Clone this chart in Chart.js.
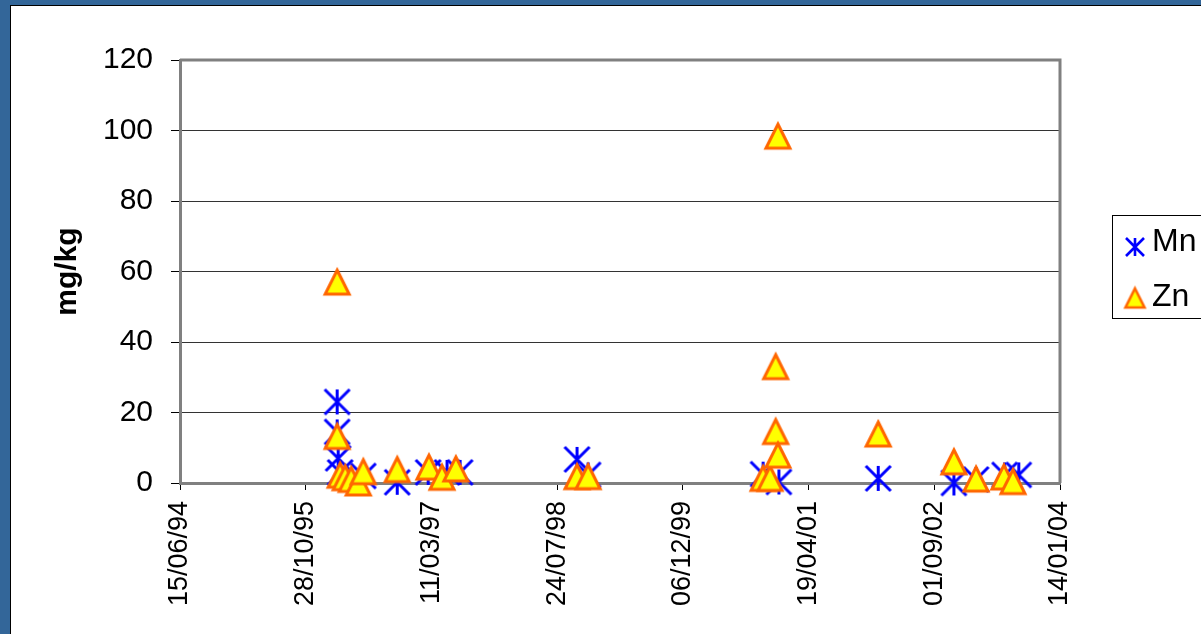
<!DOCTYPE html>
<html>
<head>
<meta charset="utf-8">
<script src="https://cdn.jsdelivr.net/npm/chart.js@4/dist/chart.umd.min.js"></script>
<style>
  html, body { margin: 0; padding: 0; background: #336699; overflow: hidden; }
  canvas { display: block; }
</style>
</head>
<body>
<canvas id="chart" width="1201" height="634"></canvas>
<script>
// Sampling dates (dd/mm/yy) and concentrations in mg/kg
const tickLabels = ['15/06/94', '28/10/95', '11/03/97', '24/07/98', '06/12/99', '19/04/01', '01/09/02', '14/01/04'];

const mnDates = ['01/03/96', '01/03/96', '05/03/96', '13/03/96', '13/06/96', '26/10/96', '26/02/97', '12/05/97', '03/07/97',
                 '11/10/98', '24/11/98', '20/10/00', '22/12/00', '21/01/02', '18/11/02', '14/02/03', '08/06/03', '03/08/03'];
const mnValues = [23, 14.5, 7, 3, 2, 0.2, 3, 3, 3,
                  6.7, 2.3, 2.5, 0.3, 1.3, 0, 1, 2.3, 2.3];

const znDates = ['01/03/96', '01/03/96', '13/03/96', '02/04/96', '26/04/96', '24/05/96', '13/06/96', '26/10/96', '01/03/97', '22/04/97', '16/06/97',
                 '11/10/98', '24/11/98', '20/10/00', '17/11/00', '18/12/00', '09/12/00', '09/12/00', '18/12/00',
                 '21/01/02', '18/11/02', '14/02/03', '05/06/03', '11/07/03'];
const znValues = [57, 13.2, 2.2, 1.5, 1.0, 0, 3.2, 3.8, 4.5, 1.6, 4,
                  1.8, 1.8, 1.3, 1.3, 98.4, 33, 14.6, 7.9,
                  13.9, 6, 1.1, 1.7, 0.4];

const yMin = 0, yMax = 120, yStep = 20;

// dd/mm/yy -> days since 1970-01-01
function dayNum(s) {
  const [d, m, y] = s.split('/').map(Number);
  const year = y < 50 ? 2000 + y : 1900 + y;
  return Date.UTC(year, m - 1, d) / 86400000;
}

const tickDays = tickLabels.map(dayNum);
const FONT = "'Liberation Sans', Arial, sans-serif";

// Excel-like marker glyphs
function makeAsterisk(size, lw, color) {
  const pad = Math.ceil(lw) + 2;
  const c = document.createElement('canvas');
  c.width = c.height = size + pad * 2;
  const g = c.getContext('2d');
  const h = size / 2, o = pad + h;
  g.strokeStyle = color;
  g.lineWidth = lw;
  g.lineCap = 'butt';
  g.beginPath();
  g.moveTo(o, o - h); g.lineTo(o, o + h);
  g.moveTo(o - h, o - h); g.lineTo(o + h, o + h);
  g.moveTo(o + h, o - h); g.lineTo(o - h, o + h);
  g.stroke();
  return c;
}

function makeTriangle(size, lw, fill, stroke) {
  const pad = Math.ceil(lw * 2) + 2;
  const c = document.createElement('canvas');
  c.width = c.height = size + pad * 2;
  const g = c.getContext('2d');
  const h = size / 2, o = pad + h;
  g.beginPath();
  g.moveTo(o, o - h);
  g.lineTo(o + h, o + h);
  g.lineTo(o - h, o + h);
  g.closePath();
  g.fillStyle = fill;
  g.fill();
  g.lineWidth = lw;
  g.lineJoin = 'miter';
  g.strokeStyle = stroke;
  g.stroke();
  return c;
}

const MN_COLOR = '#0000FF';
const ZN_FILL = '#FFFF00';
const ZN_STROKE = '#FF6600';

const mnMarker = makeAsterisk(25, 3, MN_COLOR);
const znMarker = makeTriangle(24, 3, ZN_FILL, ZN_STROKE);
const mnLegendMarker = makeAsterisk(18, 2.6, MN_COLOR);
const znLegendMarker = makeTriangle(19, 2.6, ZN_FILL, ZN_STROKE);

// Outer blue frame with white panel
const framePlugin = {
  id: 'frame',
  beforeDraw(chart) {
    const ctx = chart.ctx;
    ctx.save();
    ctx.fillStyle = '#336699';
    ctx.fillRect(0, 0, chart.width, chart.height);
    ctx.fillStyle = '#FFFFFF';
    ctx.fillRect(10, 5, chart.width, chart.height);
    ctx.strokeStyle = '#000000';
    ctx.lineWidth = 1;
    ctx.strokeRect(10.5, 5.5, chart.width + 10, chart.height + 10);
    ctx.restore();
  }
};

// Top and right edges of the plot area
const plotBorderPlugin = {
  id: 'plotBorder',
  beforeDatasetsDraw(chart) {
    const { ctx, chartArea: a } = chart;
    ctx.save();
    ctx.strokeStyle = '#808080';
    ctx.lineWidth = 3;
    ctx.beginPath();
    ctx.moveTo(a.left, a.top);
    ctx.lineTo(a.right, a.top);
    ctx.lineTo(a.right, a.bottom);
    ctx.stroke();
    ctx.restore();
  }
};

// Boxed legend on the right
const boxLegendPlugin = {
  id: 'boxLegend',
  afterDraw(chart) {
    const ctx = chart.ctx;
    ctx.save();
    ctx.fillStyle = '#FFFFFF';
    ctx.fillRect(1112, 215, 120, 103);
    ctx.strokeStyle = '#000000';
    ctx.lineWidth = 1;
    ctx.strokeRect(1112.5, 215.5, 120, 103);
    const items = [
      { marker: mnLegendMarker, text: chart.data.datasets[1].label, my: 247, ty: 242 },
      { marker: znLegendMarker, text: chart.data.datasets[0].label, my: 298, ty: 297 }
    ];
    ctx.font = '32px ' + FONT;
    ctx.fillStyle = '#000000';
    ctx.textBaseline = 'middle';
    ctx.textAlign = 'left';
    items.forEach(it => {
      ctx.drawImage(it.marker, 1135 - it.marker.width / 2, it.my - it.marker.height / 2);
      ctx.fillText(it.text, 1152, it.ty);
    });
    ctx.restore();
  }
};

const toPoints = (dates, values) => dates.map((d, i) => ({ x: dayNum(d), y: values[i] }));

new Chart(document.getElementById('chart'), {
  type: 'scatter',
  data: {
    datasets: [
      {
        label: 'Zn',
        data: toPoints(znDates, znValues),
        pointStyle: znMarker,
        pointRadius: 14,
        order: 1,
        clip: false
      },
      {
        label: 'Mn',
        data: toPoints(mnDates, mnValues),
        pointStyle: mnMarker,
        pointRadius: 14,
        order: 2,
        clip: false
      }
    ]
  },
  options: {
    responsive: false,
    animation: false,
    events: [],
    layout: { padding: { left: 0, top: 60, right: 141, bottom: 0 } },
    plugins: {
      legend: { display: false },
      tooltip: { enabled: false }
    },
    scales: {
      x: {
        type: 'linear',
        min: tickDays[0],
        max: tickDays[tickDays.length - 1],
        afterBuildTicks(scale) {
          scale.ticks = tickDays.map(v => ({ value: v }));
        },
        afterFit(scale) { scale.height = 151; },
        grid: {
          drawOnChartArea: false,
          drawTicks: true,
          tickLength: 7,
          tickColor: '#000000',
          tickWidth: 1
        },
        border: { display: true, color: '#808080', width: 3 },
        ticks: {
          autoSkip: false,
          minRotation: 90,
          maxRotation: 90,
          padding: 11,
          color: '#000000',
          font: { family: FONT, size: 27 },
          callback(value) {
            const i = tickDays.indexOf(value);
            return i >= 0 ? tickLabels[i] : '';
          }
        }
      },
      y: {
        type: 'linear',
        min: yMin,
        max: yMax,
        afterFit(scale) { scale.width = 180; },
        grid: {
          color: '#333333',
          lineWidth: 1,
          drawTicks: true,
          tickLength: 9,
          tickColor: '#000000',
          tickWidth: 1
        },
        border: { display: true, color: '#808080', width: 3 },
        ticks: {
          stepSize: yStep,
          padding: 18,
          color: '#000000',
          font: { family: FONT, size: 30 }
        },
        title: {
          display: true,
          text: 'mg/kg',
          color: '#000000',
          font: { family: FONT, size: 30, weight: 'bold' },
          padding: { top: 50, bottom: 0 }
        }
      }
    }
  },
  plugins: [framePlugin, plotBorderPlugin, boxLegendPlugin]
});
</script>
</body>
</html>
